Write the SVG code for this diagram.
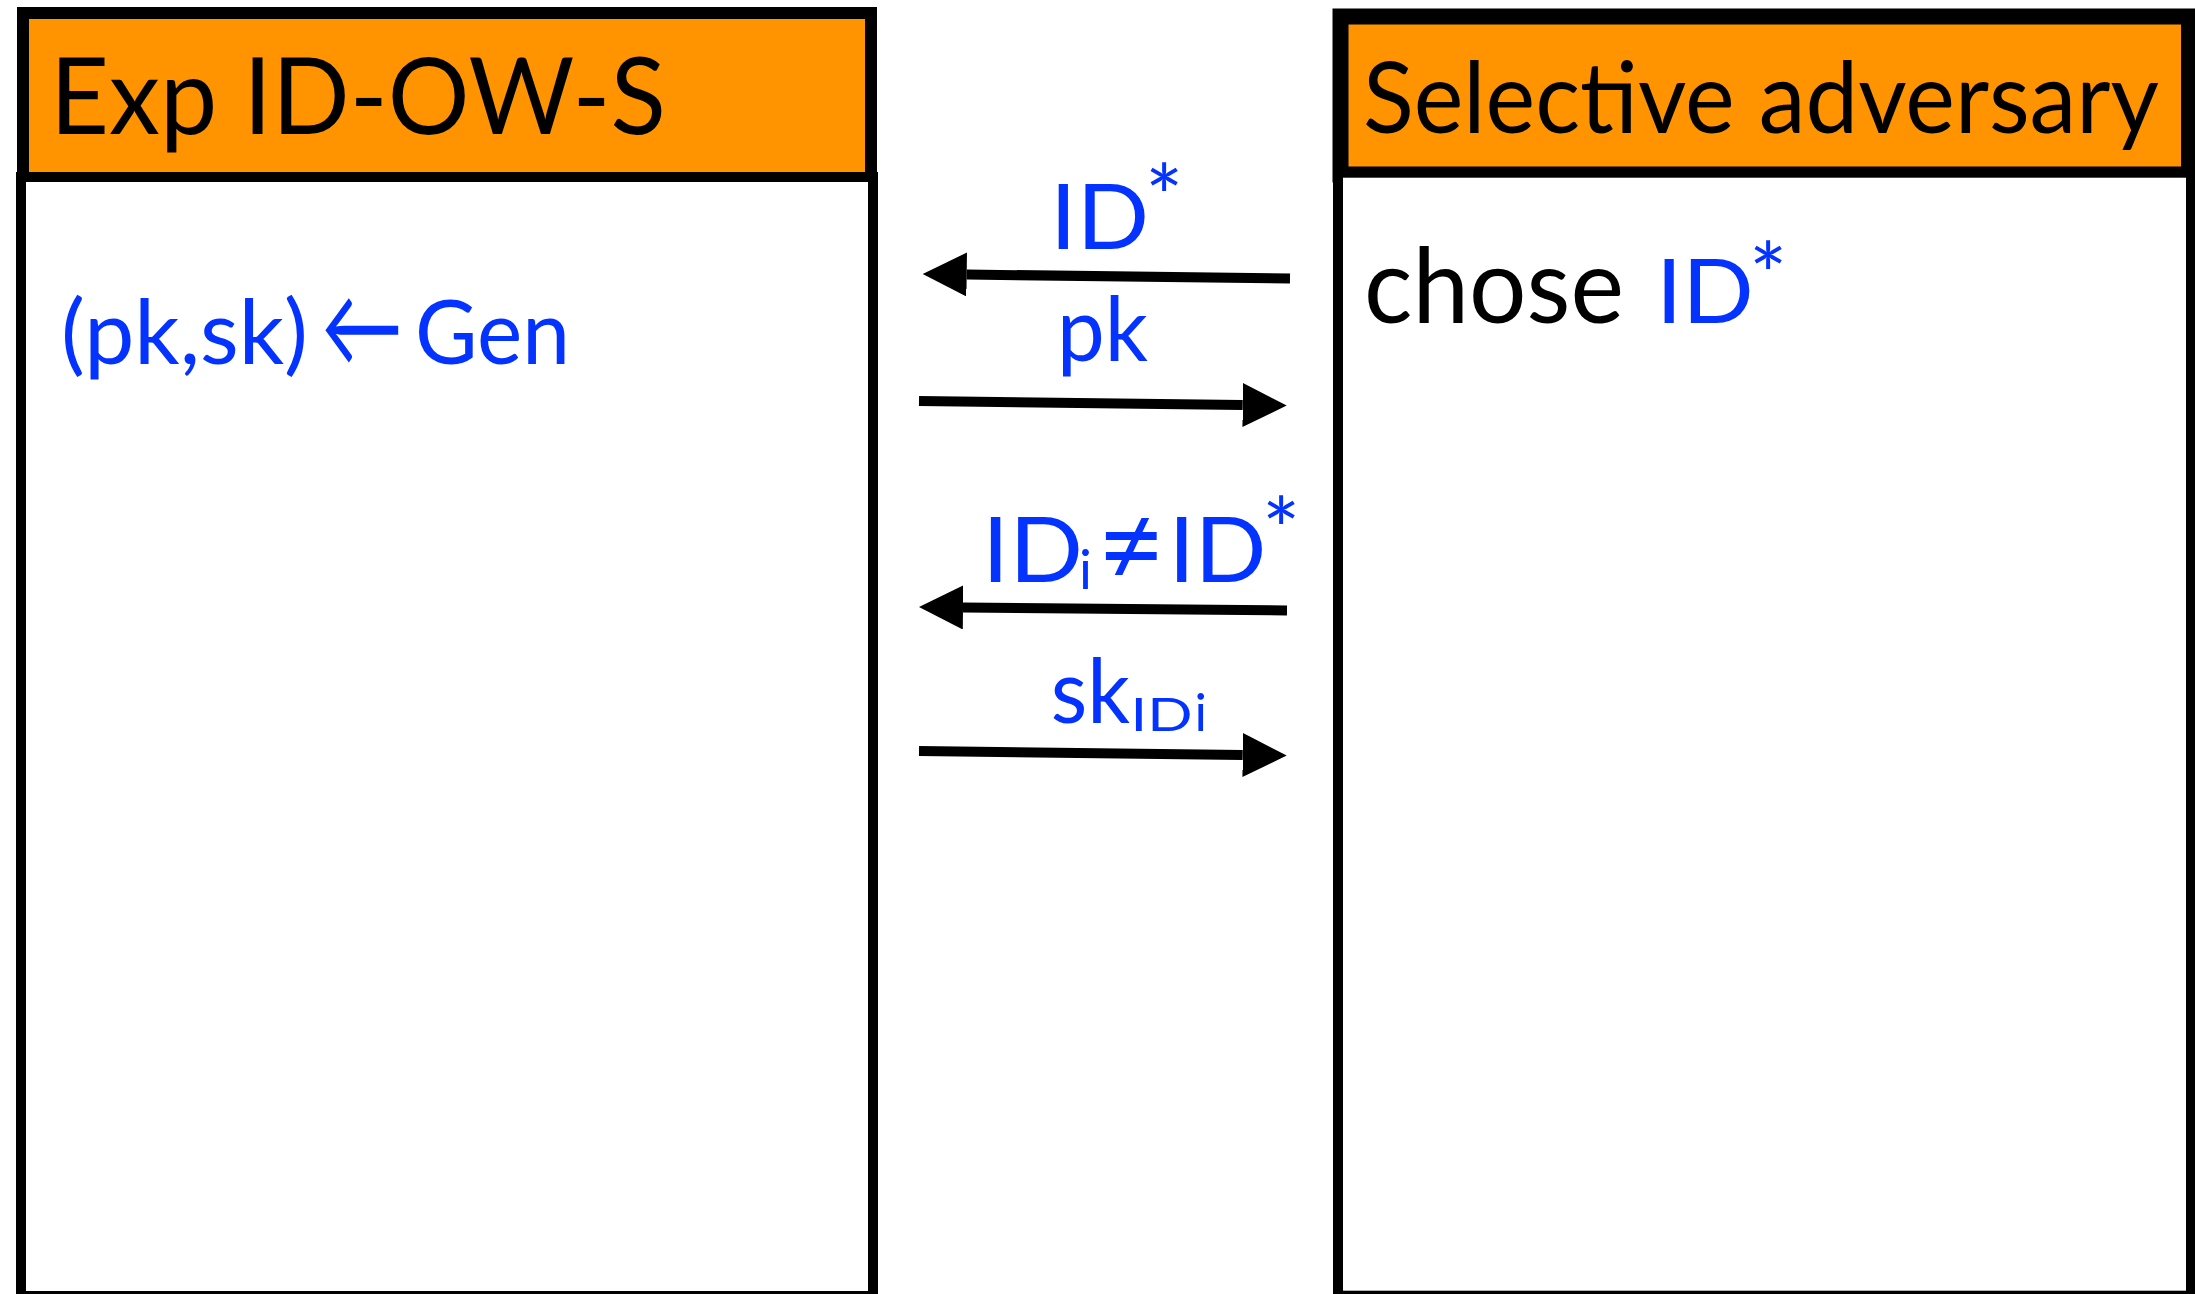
<svg xmlns="http://www.w3.org/2000/svg" width="2195" height="1294" viewBox="0 0 2195 1294">
<style>
.hdr{fill:#FF9300;stroke:#000}
.body{fill:#fff;stroke:#000;stroke-width:10}
.t{font-family:Lato,"Open Sans","Liberation Sans",sans-serif}
.blk{fill:#000}
.blue{fill:#0433FF}
.conn{stroke:#000;stroke-width:10;fill:none}
</style>
<defs>
<marker id="ah" markerUnits="userSpaceOnUse" markerWidth="46" markerHeight="46" refX="0" refY="22" orient="auto" viewBox="0 0 46 46">
<path d="M0,0 L44,22 L0,44 Z" fill="#000"/>
</marker>
</defs>
<rect x="0" y="0" width="2195" height="1294" fill="#fff"/>
<g id="experiment">
<rect class="hdr" x="23" y="13" width="848" height="165" stroke-width="12"/>
<rect class="body" x="21" y="177" width="852" height="1119"/>
<text class="t blk" x="50" y="134" font-size="107" textLength="616" lengthAdjust="spacingAndGlyphs">Exp ID-OW-S</text>
<text class="t blue" x="61" y="364" font-size="90" textLength="247" lengthAdjust="spacingAndGlyphs">(pk,sk)</text>
<text class="t blue" x="321" y="366" font-size="112" textLength="82" lengthAdjust="spacingAndGlyphs" font-family="DejaVu Sans">←</text>
<text class="t blue" x="415" y="364" font-size="90" textLength="155" lengthAdjust="spacingAndGlyphs">Gen</text>
</g>
<g id="adversary">
<rect class="hdr" x="1340.5" y="16.5" width="848.5" height="158" stroke-width="16"/>
<rect class="body" x="1338" y="172.7" width="853" height="1123"/>
<text class="t blk" x="1363" y="133" font-size="99" textLength="796" lengthAdjust="spacingAndGlyphs">Selective adversary</text>
<text class="t blk" x="1364" y="322.7" font-size="105" textLength="260" lengthAdjust="spacingAndGlyphs">chose</text>
<text class="t blue" x="1656" y="322.7" font-size="90" textLength="98" lengthAdjust="spacingAndGlyphs">ID</text>
<text class="t blue" x="1749" y="308" font-size="90">*</text>
</g>
<g id="connectors">
<line class="conn" x1="1290" y1="278.6" x2="966.7" y2="274.5" marker-end="url(#ah)"/>
<line class="conn" x1="919" y1="401" x2="1242.7" y2="405" marker-end="url(#ah)"/>
<line class="conn" x1="1287" y1="610.5" x2="963" y2="607.5" marker-end="url(#ah)"/>
<line class="conn" x1="919" y1="751" x2="1242.7" y2="755" marker-end="url(#ah)"/>
<text class="t blue" x="1050" y="249.3" font-size="91" textLength="99" lengthAdjust="spacingAndGlyphs">ID</text>
<text class="t blue" x="1145" y="230" font-size="90">*</text>
<text class="t blue" x="1057" y="360.7" font-size="90" textLength="91" lengthAdjust="spacingAndGlyphs">pk</text>
<text class="t blue" x="982" y="581.7" font-size="91" textLength="101" lengthAdjust="spacingAndGlyphs">ID</text>
<text class="t blue" x="1079" y="589" font-size="54">i</text>
<text class="t blue" x="1097" y="586" font-size="118">≠</text>
<text class="t blue" x="1168.5" y="581.7" font-size="91" textLength="98" lengthAdjust="spacingAndGlyphs">ID</text>
<text class="t blue" x="1262" y="563" font-size="90">*</text>
<text class="t blue" x="1050.7" y="722.7" font-size="90" textLength="79.3" lengthAdjust="spacingAndGlyphs">sk</text>
<text class="t blue" x="1130.6" y="731" font-size="46" textLength="62" lengthAdjust="spacingAndGlyphs">ID</text>
<text class="t blue" x="1194.5" y="731" font-size="52">i</text>
</g>
</svg>
